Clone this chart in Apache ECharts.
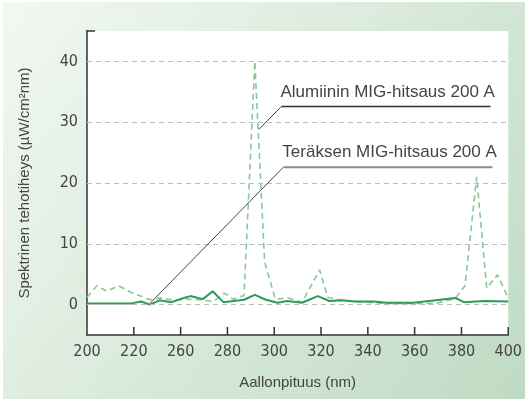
<!DOCTYPE html>
<html>
<head>
<meta charset="utf-8">
<script src="https://cdn.jsdelivr.net/npm/echarts@6/dist/echarts.min.js"></script>
<style>
    html, body { margin: 0; padding: 0; background: #fff; }
    #chart { position: absolute; left: 3px; top: 2px; width: 522px; height: 397px; }
</style>
</head>
<body>
<div id="chart"></div>
<script>
// x positions are in the chart's own drawn scale (one step = one tick)
var xTickLabels = ['200', '220', '260', '280', '300', '320', '340', '360', '380', '400'];
var yTickValues = [0, 10, 20, 30, 40];

// Teräksen MIG-hitsaus 200 A (solid)
var steelX = [200, 218.9, 223.1, 226.9, 231.0, 236.1, 240.7, 244.1, 249.5, 253.7, 258.3, 267.1, 271.7, 276.4, 281.4, 285.6, 291.9, 298.6, 303.6, 309.1, 314.1, 322.5, 328.0, 339.3, 349.0, 357.3, 361.1, 369.9, 380];
var steelY = [0.2, 0.2, 0.5, 0.0, 0.7, 0.4, 1.0, 1.4, 0.9, 2.2, 0.4, 0.8, 1.6, 0.8, 0.3, 0.6, 0.3, 1.4, 0.6, 0.7, 0.5, 0.5, 0.3, 0.3, 0.7, 1.1, 0.4, 0.6, 0.5];

// Alumiinin MIG-hitsaus 200 A (dashed)
var aluX = [200, 204.2, 208.4, 213.4, 218.9, 226.9, 231.5, 237.3, 242.8, 248.3, 254.1, 258.7, 262.5, 267.1, 271.7, 275.9, 280.5, 286.0, 291.9, 299.4, 302.8, 308.7, 318.3, 328.0, 349.0, 357.3, 361.5, 366.5, 370.8, 375.4, 380];
var aluY = [1.2, 3.1, 2.2, 3.1, 2.0, 0.8, 1.1, 0.7, 0.9, 0.8, 0.5, 1.9, 0.9, 1.5, 40.0, 7.0, 0.9, 1.1, 0.4, 5.7, 1.2, 0.7, 0.4, 0.2, 0.2, 1.0, 3.1, 21.0, 2.7, 4.9, 1.1];

function pairs(xs, ys) {
    return xs.map(function (x, i) { return [x, ys[i]]; });
}

var labelFont = '"Liberation Sans Narrow", "DejaVu Sans Condensed", sans-serif';
var textFont = '"Liberation Sans", Arial, sans-serif';
var axisColor = '#333';

var myChart = echarts.init(document.getElementById('chart'));

var option = {
    backgroundColor: new echarts.graphic.LinearGradient(0, 0, 1, 1, [
        { offset: 0, color: '#f2f8f2' },
        { offset: 0.5, color: '#d9eadb' },
        { offset: 1, color: '#bfdac3' }
    ]),
    animation: false,
    grid: {
        left: 84,
        right: 7,
        top: 29,
        bottom: 64,
        show: true,
        backgroundColor: '#fff',
        borderWidth: 0
    },
    xAxis: {
        type: 'value',
        min: 200,
        max: 380,
        interval: 20,
        name: 'Aallonpituus (nm)',
        nameLocation: 'middle',
        nameGap: 40,
        nameTextStyle: { color: '#444', fontSize: 15, fontFamily: textFont },
        axisLine: { show: true, onZero: false, lineStyle: { color: axisColor, width: 1.5 } },
        axisTick: { show: false },
        axisLabel: {
            color: '#444',
            fontSize: 16,
            fontFamily: labelFont,
            margin: 9,
            showMaxLabel: true,
            formatter: function (v) { return xTickLabels[Math.round((v - 200) / 20)]; }
        },
        splitLine: { show: false }
    },
    yAxis: {
        type: 'value',
        min: -5,
        max: 45,
        name: 'Spektrinen tehotiheys (µW/cm²nm)',
        nameLocation: 'middle',
        nameGap: 55,
        nameTextStyle: { color: '#444', fontSize: 15, fontFamily: textFont },
        axisLine: { show: true, onZero: false, lineStyle: { color: axisColor, width: 1.5 } },
        axisTick: { show: false },
        axisLabel: {
            color: '#444',
            fontSize: 16,
            fontFamily: labelFont,
            margin: 9,
            customValues: yTickValues
        },
        splitLine: { show: false }
    },
    series: [
        {
            name: 'grid',
            type: 'line',
            data: [],
            z: 1,
            silent: true,
            markLine: {
                silent: true,
                symbol: 'none',
                label: { show: false },
                lineStyle: { color: '#bdbdbd', type: [5, 4], width: 1 },
                data: yTickValues.map(function (v) { return { yAxis: v }; })
            }
        },
        {
            name: 'Alumiinin MIG-hitsaus 200 A',
            type: 'line',
            z: 3,
            symbol: 'none',
            lineStyle: { color: '#8ac796', width: 1.6, type: [6, 4] },
            data: pairs(aluX, aluY)
        },
        {
            name: 'Teräksen MIG-hitsaus 200 A',
            type: 'line',
            z: 4,
            symbol: 'none',
            lineStyle: { color: '#2b9b57', width: 2 },
            data: pairs(steelX, steelY)
        }
    ]
};

myChart.setOption(option);

// callout annotations: [tip of leader, elbow], both in data coordinates
var notes = [
    { text: 'Alumiinin MIG-hitsaus 200 A', tip: [273.4, 28.8], elbow: [283.1, 32.6], under: '#333', underWidth: 1.5 },
    { text: 'Teräksen MIG-hitsaus 200 A', tip: [226.9, 0.2], elbow: [283.9, 22.6], under: '#8a8a8a', underWidth: 2 }
];

var graphics = [];
notes.forEach(function (n) {
    var a = myChart.convertToPixel({ gridIndex: 0 }, n.tip);
    var b = myChart.convertToPixel({ gridIndex: 0 }, n.elbow);
    graphics.push({
        type: 'line', z: 10,
        shape: { x1: a[0], y1: a[1], x2: b[0], y2: b[1] },
        style: { stroke: '#444', lineWidth: 1 }
    });
    graphics.push({
        type: 'line', z: 10,
        shape: { x1: b[0], y1: b[1], x2: b[0] + 209, y2: b[1] },
        style: { stroke: n.under, lineWidth: n.underWidth }
    });
    graphics.push({
        type: 'text', z: 10,
        x: b[0] - 1, y: b[1] - 6,
        style: {
            text: n.text,
            fill: '#444',
            font: '17px ' + textFont,
            textAlign: 'left',
            textVerticalAlign: 'bottom'
        }
    });
});

// inward ticks on the x axis, sitting on the bottom edge of the grid
for (var i = 1; i < xTickLabels.length; i++) {
    var px = myChart.convertToPixel({ gridIndex: 0 }, [200 + i * 20, 0])[0];
    graphics.push({
        type: 'rect', z: 12,
        left: px - 0.75,
        bottom: option.grid.bottom,
        shape: { width: 1.5, height: 8 },
        style: { fill: axisColor }
    });
}

// short cap at the top of the y axis
var capA = myChart.convertToPixel({ gridIndex: 0 }, [200, 45]);
graphics.push({
    type: 'line', z: 10,
    shape: { x1: capA[0] - 0.75, y1: capA[1], x2: capA[0] + 8, y2: capA[1] },
    style: { stroke: axisColor, lineWidth: 1.5 }
});
myChart.setOption({ graphic: graphics });

window.addEventListener('resize', function () {
    myChart.resize();
});
</script>
</body>
</html>
